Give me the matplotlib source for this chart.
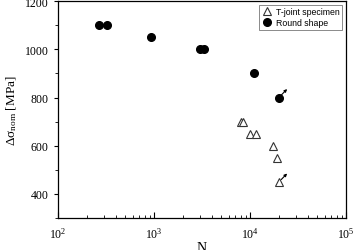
import numpy as np
import matplotlib
matplotlib.use('Agg')
import matplotlib.pyplot as plt

plt.rcParams['font.family'] = ['Liberation Serif', 'DejaVu Serif']
plt.rcParams['mathtext.fontset'] = 'custom'
plt.rcParams['mathtext.rm'] = 'Liberation Serif'

# T-joint specimen data
tj_N = [8000, 8500, 10000, 11500, 17500, 19000, 20000]
tj_S = [700, 700, 650, 650, 600, 550, 450]

# Round shape data
rs_N = [265, 325, 930, 3000, 3350, 11000, 20000]
rs_S = [1100, 1100, 1050, 1000, 1000, 900, 800]

# run-outs (arrow markers)
runout_N = [20000, 20000]
runout_S = [450, 800]

fig = plt.figure(figsize=(3.53, 2.51), dpi=100)
ax = fig.add_axes([0.164, 0.127, 0.816, 0.865])

ax.plot(tj_N, tj_S, linestyle='none', marker='^', markersize=6,
        markerfacecolor='white', markeredgecolor='#333333', markeredgewidth=0.8,
        label='T-joint specimen')
ax.plot(rs_N, rs_S, linestyle='none', marker='o', markersize=5.5,
        color='black', label='Round shape')

for n, s in zip(runout_N, runout_S):
    ax.annotate('', xy=(n * 1.22, s + 35), xytext=(n * 1.06, s + 10),
                arrowprops=dict(arrowstyle='-|>', color='black', lw=0.8,
                                mutation_scale=4, shrinkA=0, shrinkB=0))

ax.set_xscale('log')
ax.set_xlim(1e2, 1e5)
ax.set_ylim(300, 1200)
ax.set_yticks([400, 600, 800, 1000, 1200])
ax.set_yticks([300, 500, 700, 900, 1100], minor=True)

ax.tick_params(axis='x', which='both', direction='in', labelsize=8.5, pad=6)
ax.tick_params(axis='x', which='major', length=4)
ax.tick_params(axis='x', which='minor', length=2)
ax.tick_params(axis='y', which='both', direction='out', labelsize=8.5)
ax.tick_params(axis='y', which='major', length=3)
ax.tick_params(axis='y', which='minor', length=2)
for sp in ax.spines.values():
    sp.set_linewidth(0.9)

ax.set_xlabel('N', fontsize=10, labelpad=0)
ax.set_ylabel(r'$\mathrm{\Delta\sigma_{nom}}$ [MPa]', fontsize=9.5, labelpad=4)

leg = ax.legend(loc='upper right', frameon=True, fancybox=False,
                edgecolor='#555555', borderpad=0.3, handletextpad=0.4,
                labelspacing=0.2, handlelength=1.3, borderaxespad=0.4,
                prop={'family': ['Liberation Sans', 'DejaVu Sans'], 'size': 6.3})
leg.get_frame().set_linewidth(0.6)

fig.savefig('out.png', dpi=100)
